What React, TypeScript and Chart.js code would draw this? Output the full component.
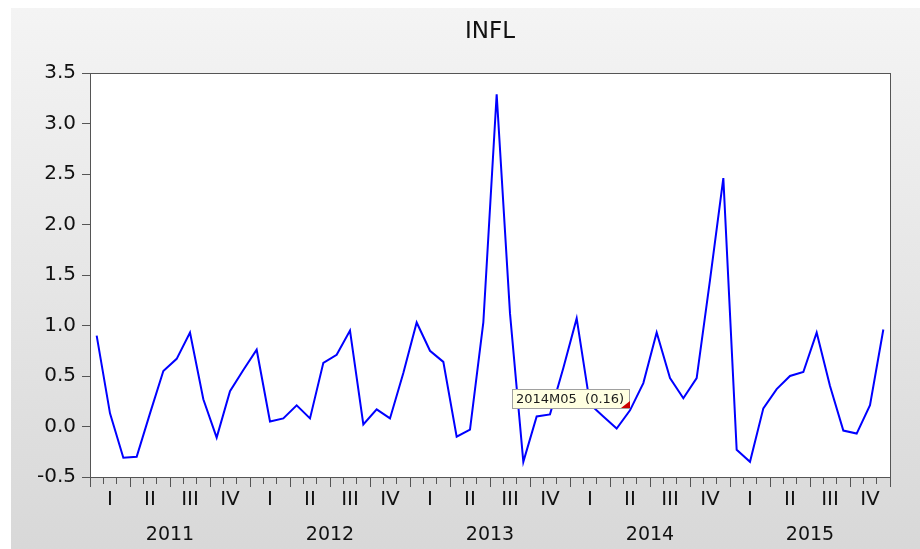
import React, { useEffect, useRef } from "react";
import { Chart, registerables } from "chart.js";

Chart.register(...registerables);

// ---- data ----
const TITLE = "INFL";
const YEARS = ["2011", "2012", "2013", "2014", "2015"];
const QUARTERS = ["I", "II", "III", "IV"];
const MONTHS = ["01", "02", "03", "04", "05", "06", "07", "08", "09", "10", "11", "12"];
const CATEGORIES = YEARS.flatMap((y) => MONTHS.map((m) => `${y}M${m}`));

const INFL_2011 = [0.9, 0.13, -0.31, -0.3, 0.13, 0.55, 0.67, 0.93, 0.27, -0.11, 0.35, 0.56];
const INFL_2012 = [0.76, 0.05, 0.08, 0.21, 0.08, 0.63, 0.71, 0.95, 0.02, 0.17, 0.08, 0.53];
const INFL_2013 = [1.03, 0.75, 0.64, -0.1, -0.03, 1.03, 3.29, 1.12, -0.35, 0.1, 0.12, 0.58];
const INFL_2014 = [1.07, 0.22, 0.1, -0.02, 0.16, 0.43, 0.93, 0.48, 0.28, 0.48, 1.45, 2.46];
const INFL_2015 = [-0.23, -0.35, 0.18, 0.37, 0.5, 0.54, 0.93, 0.4, -0.04, -0.07, 0.21, 0.96];
const INFL = [...INFL_2011, ...INFL_2012, ...INFL_2013, ...INFL_2014, ...INFL_2015];

const Y_MIN = -0.5;
const Y_MAX = 3.5;
const Y_STEP = 0.5;
const MARKED_INDEX = 40; // 2014M05 hover label

// ---- style ----
const FONT = "'DejaVu Sans', 'Liberation Sans', sans-serif";
const AXIS = "#555555";
const TEXT = "#111111";
const W = 909;
const H = 541;

const framePlugin = {
  id: "frame",
  beforeDraw(chart: any) {
    const { ctx, chartArea: a } = chart;
    ctx.save();
    ctx.fillStyle = "#ffffff";
    ctx.fillRect(a.left, a.top, a.right - a.left, a.bottom - a.top);
    ctx.restore();
  },
  afterDraw(chart: any) {
    const { ctx, chartArea: a } = chart;
    ctx.save();
    ctx.strokeStyle = AXIS;
    ctx.lineWidth = 1;
    ctx.strokeRect(Math.round(a.left) + 0.5, Math.round(a.top) + 0.5, Math.round(a.right - a.left), Math.round(a.bottom - a.top));

    // hover label on the marked observation
    const pt = chart.getDatasetMeta(0).data[MARKED_INDEX];
    if (pt) {
      const px = Math.round(pt.x);
      const py = Math.round(pt.y);
      const text = `${CATEGORIES[MARKED_INDEX]}  (${INFL[MARKED_INDEX].toFixed(2)})`;
      ctx.font = `13px ${FONT}`;
      const tw = ctx.measureText(text).width;
      const bw = Math.round(tw + 10);
      const bh = 20;
      const bx = px - bw;
      const by = py - bh - 1;
      ctx.fillStyle = "#ffffe1";
      ctx.fillRect(bx, by, bw, bh);
      ctx.strokeStyle = "#a0a0a0";
      ctx.strokeRect(bx + 0.5, by + 0.5, bw - 1, bh - 1);
      ctx.fillStyle = "#1a1a1a";
      ctx.textBaseline = "middle";
      ctx.textAlign = "left";
      ctx.fillText(text, bx + 4, by + bh / 2 + 1);
      ctx.fillStyle = "#cc0000";
      ctx.beginPath();
      ctx.moveTo(bx + bw - 9, by + bh - 1);
      ctx.lineTo(bx + bw, by + bh - 1);
      ctx.lineTo(bx + bw, by + bh - 8);
      ctx.closePath();
      ctx.fill();
    }
    ctx.restore();
  },
};

export default function App() {
  const ref = useRef<HTMLCanvasElement | null>(null);

  useEffect(() => {
    if (!ref.current) return;
    const chart = new Chart(ref.current, {
      type: "line",
      data: {
        labels: CATEGORIES,
        datasets: [
          {
            label: TITLE,
            data: INFL,
            borderColor: "#0000ff",
            borderWidth: 2,
            pointRadius: 0,
            pointHoverRadius: 0,
            tension: 0,
            fill: false,
          },
        ],
      },
      options: {
        animation: false,
        responsive: false,
        devicePixelRatio: 1,
        events: [],
        layout: { padding: { top: 0, right: 30, bottom: 0, left: 0 } },
        plugins: {
          legend: { display: false },
          tooltip: { enabled: false },
          title: {
            display: true,
            text: TITLE,
            fullSize: false,
            align: "center",
            color: TEXT,
            font: { family: FONT, size: 23, weight: "normal" },
            padding: { top: 10, bottom: 27.4 },
          },
        },
        scales: {
          x: {
            type: "category",
            position: "bottom",
            offset: true,
            weight: 0,
            grid: { offset: true, drawOnChartArea: false, drawTicks: true, tickLength: 7, color: AXIS, tickColor: AXIS, tickWidth: 1 },
            border: { display: true, color: AXIS },
            ticks: {
              autoSkip: false,
              maxRotation: 0,
              minRotation: 0,
              padding: 4,
              color: TEXT,
              font: { family: FONT, size: 20 },
              callback: (_v: any, i: number) => (i % 3 === 1 ? QUARTERS[Math.floor((i % 12) / 3)] : ""),
            },
            afterFit: (s: any) => {
              s.height = 36;
            },
          },
          xq: {
            type: "linear",
            position: { y: Y_MIN },
            min: 0,
            max: CATEGORIES.length,
            afterBuildTicks: (s: any) => {
              const t = [];
              for (let v = 0; v <= CATEGORIES.length; v += 3) t.push({ value: v });
              s.ticks = t;
            },
            ticks: { display: false },
            grid: { drawOnChartArea: false, drawTicks: true, tickLength: 10, color: AXIS, tickColor: AXIS },
            border: { display: false },
          },
          xy: {
            type: "linear",
            position: "bottom",
            weight: 1,
            min: 0,
            max: CATEGORIES.length,
            afterBuildTicks: (s: any) => {
              s.ticks = YEARS.map((_, k) => ({ value: 6 + 12 * k }));
            },
            ticks: {
              autoSkip: false,
              maxRotation: 0,
              minRotation: 0,
              padding: 11,
              color: TEXT,
              font: { family: FONT, size: 19 },
              callback: (v: any) => YEARS[Math.round((Number(v) - 6) / 12)] ?? "",
            },
            grid: { display: false, drawTicks: false, tickLength: 0 },
            border: { display: false },
            afterFit: (s: any) => {
              s.height = 36;
            },
          },
          y: {
            type: "linear",
            position: "left",
            min: Y_MIN,
            max: Y_MAX,
            ticks: {
              stepSize: Y_STEP,
              padding: 6,
              color: TEXT,
              font: { family: FONT, size: 20 },
              callback: (v: any) => Number(v).toFixed(1),
            },
            grid: { drawOnChartArea: false, drawTicks: true, tickLength: 8, color: AXIS, tickColor: AXIS },
            border: { display: true, color: AXIS },
            afterFit: (s: any) => {
              s.width = 79;
            },
          },
        },
      } as any,
      plugins: [framePlugin],
    });
    return () => chart.destroy();
  }, []);

  return (
    <div
      style={{
        position: "fixed",
        left: 11,
        top: 8,
        width: W,
        height: H,
        background: "linear-gradient(to bottom, #f4f4f4, #d8d8d8)",
      }}
    >
      <canvas ref={ref} width={W} height={H} style={{ display: "block", width: W, height: H }} />
    </div>
  );
}
